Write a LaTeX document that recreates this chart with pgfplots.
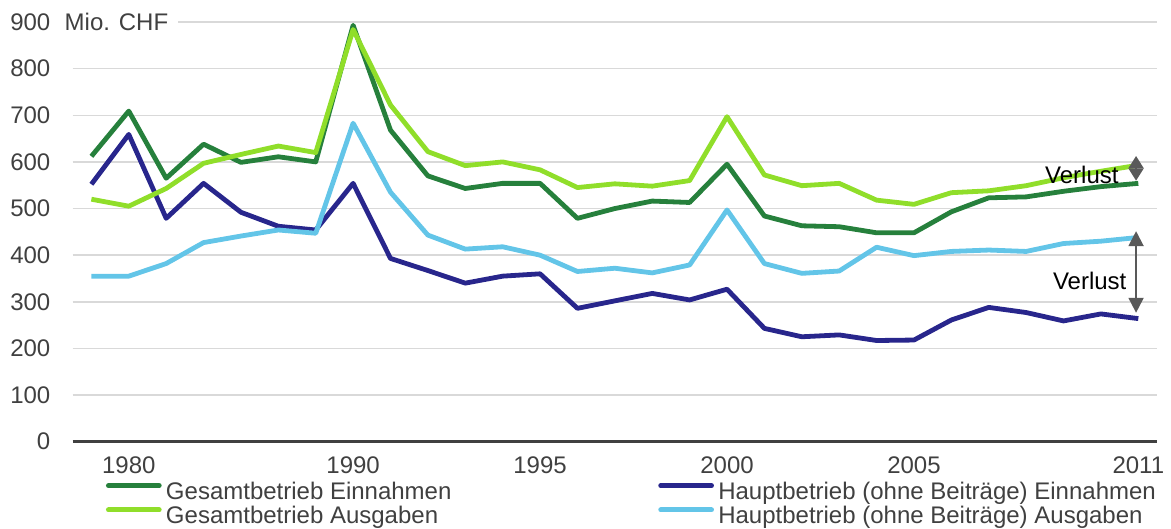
\documentclass[border=0pt]{standalone}
\usepackage{pgfplots}
\usepackage{pgfplotstable}
\pgfplotsset{compat=1.18}
\usepackage{fontspec}
\setmainfont{Liberation Sans}
\usetikzlibrary{arrows.meta}
\definecolor{gdark}{RGB}{38,128,60}
\definecolor{glight}{RGB}{144,222,42}
\definecolor{bdark}{RGB}{40,38,140}
\definecolor{blight}{RGB}{99,197,232}
\definecolor{txt}{RGB}{64,64,64}
\definecolor{gridc}{RGB}{217,217,217}
\definecolor{arr}{RGB}{89,89,89}

\pgfplotstableread{
i GE HE GA HA
0 612 552 520 355
1 709 659 505 355
2 565 479 543 382
3 638 554 597 427
4 599 492 616 441
5 611 462 634 454
6 600 454 620 447
7 893 554 884 683
8 668 393 722 535
9 570 367 622 443
10 543 340 592 413
11 554 355 600 418
12 554 360 583 400
13 479 286 545 365
14 500 302 553 372
15 516 318 548 362
16 513 304 560 379
17 595 327 697 497
18 484 243 572 382
19 463 225 549 361
20 461 229 554 366
21 448 217 518 417
22 448 218 509 399
23 493 261 534 408
24 523 288 538 411
25 525 277 549 408
26 537 259 566 425
27 547 274 580 430
28 554 264 593 438
}\data

\begin{document}
\begin{tikzpicture}[font=\fontsize{12}{14}\selectfont]
\begin{axis}[
  at={(0,0)}, anchor=south west,
  width=542.15pt, height=209.85pt, scale only axis,
  xmin=-0.5, xmax=28.5, ymin=0, ymax=900,
  xtick={1,7,12,17,22,28},
  xticklabels={1980,1990,1995,2000,2005,2011},
  ytick={0,100,...,900},
  axis line style={draw=none},
  tick style={draw=none},
  major tick length=0pt,
  ymajorgrids, grid style={gridc, line width=0.75pt},
  /pgf/number format/assume math mode=true,
  tick label style={text=txt},
  yticklabel style={anchor=east, inner sep=0pt, xshift=-11pt},
  xticklabel style={anchor=north, inner sep=0pt, yshift=-7.3pt},
  clip=false,
  legend columns=2,
  legend cell align=left,
  legend style={at={(0.0307,-0.0963)}, anchor=north west, draw=none, fill=none,
    inner sep=0pt, outer sep=0pt, text=txt,
    nodes={inner sep=0pt, text height=8.5pt, text depth=3.65pt},
    /tikz/every odd column/.append style={column sep=2.15pt},
    /tikz/every even column/.append style={column sep=103.4pt}},
  legend image code/.code={\draw[#1, line width=2.5pt, line cap=round] (1.25pt,4.3pt) -- (26.6pt,4.3pt);},
  every axis plot/.append style={line width=2.4pt, line join=round, no markers},
]
\draw[txt, line width=1.65pt] (rel axis cs:0,0) -- (rel axis cs:1,0);
\addplot[gdark] table[x=i, y=GE] {\data};
\addlegendentry{Gesamtbetrieb Einnahmen}
\addplot[bdark] table[x=i, y=HE] {\data};
\addlegendentry{Hauptbetrieb (ohne Beiträge) Einnahmen}
\addplot[glight] table[x=i, y=GA] {\data};
\addlegendentry{Gesamtbetrieb Ausgaben}
\addplot[blight] table[x=i, y=HA] {\data};
\addlegendentry{Hauptbetrieb (ohne Beiträge) Ausgaben}
\draw[arr, line width=1pt, {Triangle[width=7.5pt,length=6.2pt]}-{Triangle[width=7.5pt,length=6.2pt]}] (axis cs:27.94,612.7) -- (axis cs:27.94,559.7);
\draw[arr, line width=1pt, {Triangle[width=7.5pt,length=7.5pt]}-{Triangle[width=7.5pt,length=7.5pt]}] (axis cs:27.94,451.5) -- (axis cs:27.94,276.5);
\node[text=black, inner sep=0pt] at (axis cs:26.49,572.6) {Verlust};
\node[text=black, inner sep=0pt] at (axis cs:26.7,345) {Verlust};
\node[anchor=west, fill=white, inner xsep=5pt, inner ysep=2pt, text=txt] at ([xshift=-9.2pt]rel axis cs:0,1) {Mio. CHF};
\end{axis}
\pgfresetboundingbox
\useasboundingbox (-36.35pt,-43.65pt) rectangle (549.15pt,220.85pt);
\end{tikzpicture}
\end{document}
